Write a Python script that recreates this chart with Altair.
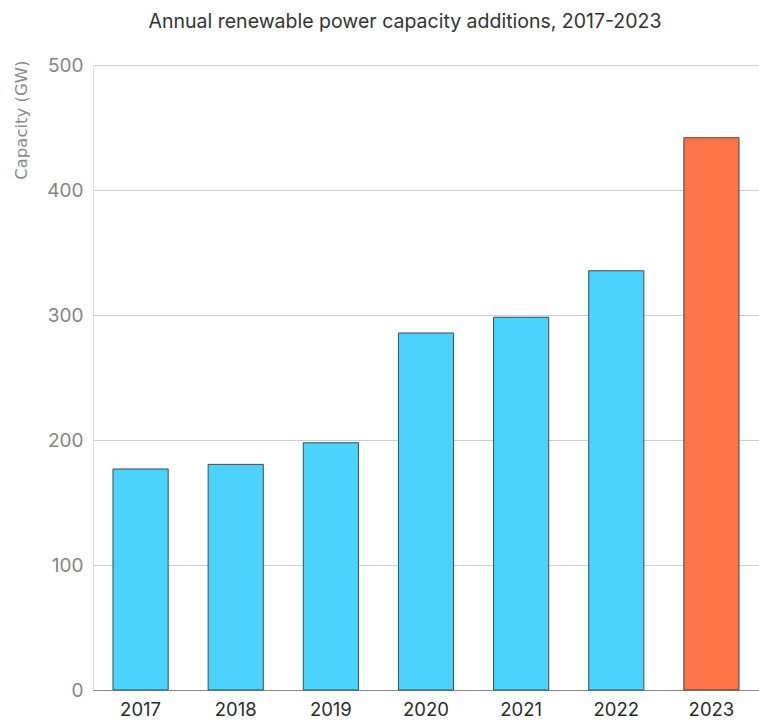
import altair as alt
import pandas as pd

# Annual renewable capacity additions (GW)
years = ["2017", "2018", "2019", "2020", "2021", "2022", "2023"]
capacity = [176.8, 180.5, 197.8, 285.6, 298.2, 335.4, 441.8]
highlight = ["past", "past", "past", "past", "past", "past", "latest"]

df = pd.DataFrame({"year": years, "capacity": capacity, "group": highlight})

FONT = "Inter"

bars = alt.Chart(df).mark_bar(stroke="#3b4b57", strokeWidth=1).encode(
    x=alt.X(
        "year:N",
        sort=years,
        title=None,
        scale=alt.Scale(paddingInner=0.42, paddingOuter=0.21),
        axis=alt.Axis(
            labelAngle=0,
            labelFont=FONT,
            labelFontSize=18.5,
            labelColor="#2b2b2b",
            labelPadding=10,
            ticks=False,
            domain=True,
            domainColor="#8a8a8a",
            domainWidth=1.2,
            grid=False,
        ),
    ),
    y=alt.Y(
        "capacity:Q",
        title="Capacity (GW)",
        scale=alt.Scale(domain=[0, 500], nice=False),
        axis=alt.Axis(
            values=[0, 100, 200, 300, 400, 500],
            labelFont=FONT,
            labelFontSize=19,
            labelColor="#858585",
            labelPadding=10,
            ticks=False,
            domain=False,
            grid=True,
            gridColor="#cfcfcf",
            gridWidth=1.2,
            titleFont="DejaVu Sans",
            titleFontSize=16.5,
            titleFontWeight="normal",
            titleColor="#8a8a8a",
            titleAngle=270,
            titleAlign="right",
            titleBaseline="alphabetic",
            titleX=-67,
            titleY=-5,
        ),
    ),
    color=alt.Color(
        "group:N",
        scale=alt.Scale(domain=["past", "latest"], range=["#4cd3fd", "#fe7347"]),
        legend=None,
    ),
)

chart = bars.properties(
    width=666,
    height=625,
    title=alt.TitleParams(
        "Annual renewable power capacity additions, 2017-2023",
        font=FONT,
        fontSize=19.5,
        fontWeight="normal",
        color="#333333",
        anchor="middle",
        dx=-21,
        offset=24,
    ),
    autosize=alt.AutoSizeParams(type="none"),
    padding={"left": 93, "top": 65, "right": 0, "bottom": 31},
).configure_view(stroke=None).configure(background="white")

chart.save("out.html", embed_options={"renderer": "svg", "actions": False})
